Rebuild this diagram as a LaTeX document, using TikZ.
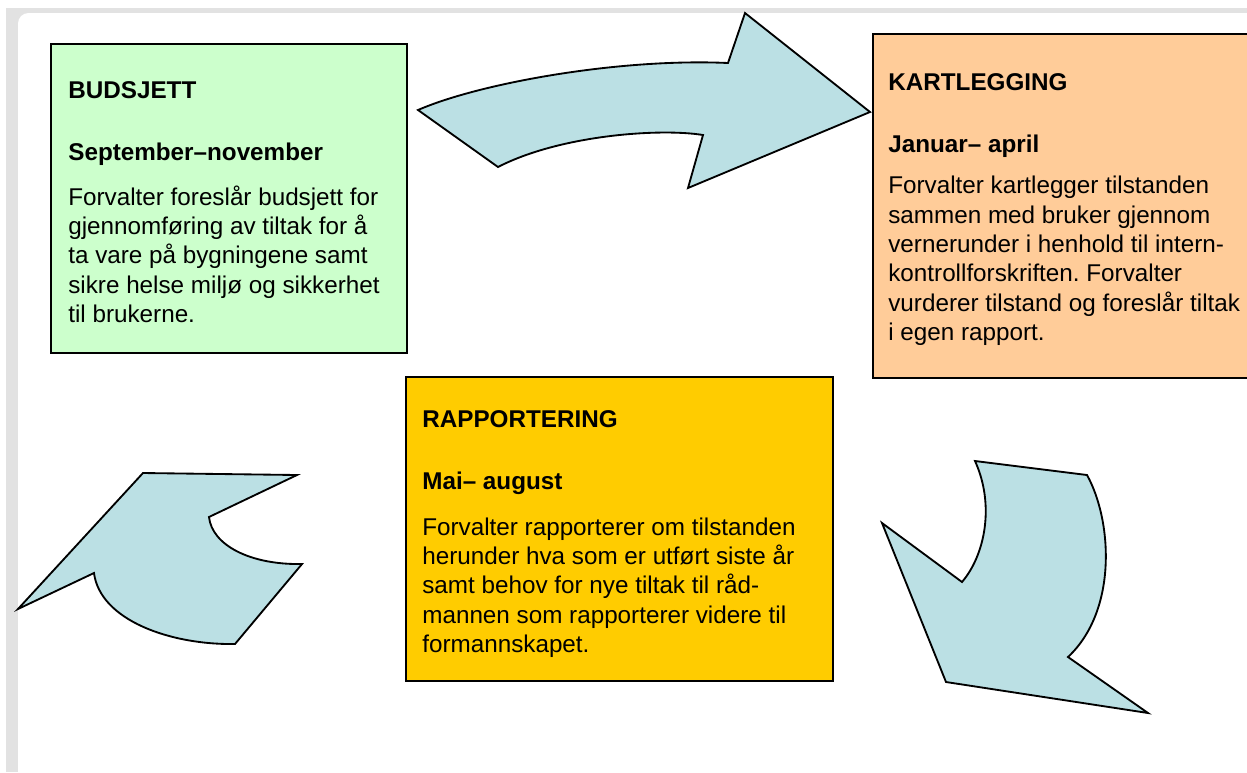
\documentclass[tikz,border=0pt]{standalone}
\usepackage{fontspec}
\setmainfont{Liberation Sans}
\usepackage{tikz}
\usetikzlibrary{positioning,calc}
\definecolor{budgreen}{RGB}{204,255,204}
\definecolor{kartpeach}{RGB}{255,204,153}
\definecolor{rappyellow}{RGB}{255,204,0}
\definecolor{pilblue}{RGB}{187,224,228}
\definecolor{framegray}{RGB}{226,226,226}
\frenchspacing

\begin{document}
\begin{tikzpicture}[x=0.02cm, y=-0.02cm,
    fase/.style={draw=black, line width=1.2pt, inner sep=0pt, anchor=north west},
    fasetekst/.style={anchor=north west, inner sep=0pt, align=left,
      font=\fontsize{13.8}{16.7}\selectfont},
    pil/.style={fill=pilblue, draw=black, line width=1.05pt, line join=miter}]
  \useasboundingbox (0,0) rectangle (1247,772);
  % ramme
  \fill[framegray] (6,8) rectangle (1247,772);
  \fill[white, rounded corners=6pt] (18,13) rectangle (1280,800);
  % piler
  \draw[pil] (418,110) .. controls (480,83) and (620,58) .. (728,63) -- (745,13) -- (870,112)
    -- (688,188) -- (703,135) .. controls (660,128) and (560,135) .. (498,167) -- cycle;
  \draw[pil] (975,461) -- (1087,475) .. controls (1112,520) and (1118,610) .. (1068,657)
    -- (1148,713) -- (946,682) -- (882,523) -- (962,582) .. controls (985,555) and (995,505) .. (975,461) -- cycle;
  \draw[pil] (143,473) -- (297,475) -- (209,517) .. controls (212,545) and (250,565) .. (302,564)
    -- (235,644) .. controls (170,645) and (100,620) .. (94,573) -- (18,609) -- cycle;
  % faser
  \node[fase, fill=budgreen, minimum width=7.12cm, minimum height=6.18cm] (budsjett) at (50,43) {};
  \node[fase, fill=kartpeach, minimum width=7.8cm, minimum height=6.88cm] (kartlegging) at (872,33) {};
  \node[fase, fill=rappyellow, minimum width=8.54cm, minimum height=6.08cm] (rapportering) at (405,376) {};
  % tekster
  \node[fasetekst] (budsjett-tekst) at ($(budsjett.north west)+(18,38)$) {%
    \textbf{BUDSJETT}\\[18.5pt]
    \textbf{September–november}\\[9pt]
    Forvalter foreslår budsjett for\\
    gjennomføring av tiltak for å\\
    ta vare på bygningene samt\\
    sikre helse miljø og sikkerhet\\
    til brukerne.};
  \node[fasetekst] (kartlegging-tekst) at ($(kartlegging.north west)+(16,40)$) {%
    \textbf{KARTLEGGING}\\[18.5pt]
    \textbf{Januar– april}\\[7pt]
    Forvalter kartlegger tilstanden\\
    sammen med bruker gjennom\\
    vernerunder i henhold til intern-\\
    kontrollforskriften. Forvalter\\
    vurderer tilstand og foreslår tiltak\\
    i egen rapport.};
  \node[fasetekst] (rapportering-tekst) at ($(rapportering.north west)+(17,34)$) {%
    \textbf{RAPPORTERING}\\[18.5pt]
    \textbf{Mai– august}\\[9.5pt]
    Forvalter rapporterer om tilstanden\\
    herunder hva som er utført siste år\\
    samt behov for nye tiltak til råd-\\
    mannen som rapporterer videre til\\
    formannskapet.};
\end{tikzpicture}
\end{document}
